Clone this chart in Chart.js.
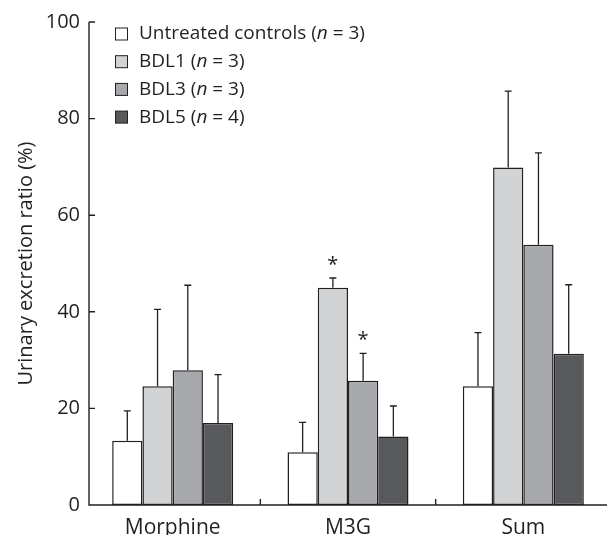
<!DOCTYPE html>
<html>
<head>
<meta charset="utf-8">
<script src="https://cdn.jsdelivr.net/npm/chart.js@4"></script>
<style>
  html, body { margin: 0; padding: 0; background: #fff; }
  #wrap { width: 612px; height: 535px; }
</style>
</head>
<body>
<div id="wrap"><canvas id="excrecionChart" width="612" height="535"></canvas></div>
<script>
// datos (media y desviacion, solo barra superior)
const categorias = ['Morphine', 'M3G', 'Sum'];
const yTicks = [0, 20, 40, 60, 80, 100];

const grupos = ['Untreated controls', 'BDL1', 'BDL3', 'BDL5'];
const nGrupos = [3, 3, 3, 4];

const mediaControl = [13.3, 10.9, 24.6];
const mediaBDL1 = [24.6, 45.0, 69.9];
const mediaBDL3 = [27.9, 25.7, 53.9];
const mediaBDL5 = [17.0, 14.2, 31.3];

const sdControl = [6.2, 6.2, 11.1];
const sdBDL1 = [15.9, 2.0, 15.8];
const sdBDL3 = [17.6, 5.7, 19.0];
const sdBDL5 = [10.0, 6.3, 14.3];

// asteriscos: [categoria, grupo]
const significativos = [[1, 1], [1, 2]];

const colores = ['#ffffff', '#d1d3d4', '#a7a9ac', '#58595b'];
const tinta = '#231f20';
const fuente = "'Open Sans', 'DejaVu Sans', sans-serif";

const medias = [mediaControl, mediaBDL1, mediaBDL3, mediaBDL5];
const desvios = [sdControl, sdBDL1, sdBDL3, sdBDL5];

// barras de error (solo hacia arriba) y asteriscos
const erroresPlugin = {
    id: 'errores',
    afterDatasetsDraw(chart) {
        const ctx = chart.ctx;
        const y = chart.scales.y;
        ctx.save();
        ctx.strokeStyle = tinta;
        ctx.lineWidth = 1.3;
        chart.data.datasets.forEach((ds, i) => {
            const meta = chart.getDatasetMeta(i);
            meta.data.forEach((bar, j) => {
                const tope = y.getPixelForValue(ds.data[j] + desvios[i][j]);
                ctx.beginPath();
                ctx.moveTo(bar.x, bar.y);
                ctx.lineTo(bar.x, tope);
                ctx.moveTo(bar.x - 3.5, tope);
                ctx.lineTo(bar.x + 3.5, tope);
                ctx.stroke();
            });
        });
        ctx.fillStyle = tinta;
        ctx.font = '20px ' + fuente;
        ctx.textAlign = 'center';
        ctx.textBaseline = 'alphabetic';
        significativos.forEach(([j, i]) => {
            const bar = chart.getDatasetMeta(i).data[j];
            const tope = y.getPixelForValue(medias[i][j] + desvios[i][j]);
            ctx.fillText('*', bar.x, tope - 7);
        });
        ctx.restore();
    }
};

// ejes con marcas hacia dentro
const ejesPlugin = {
    id: 'ejes',
    afterDraw(chart) {
        const ctx = chart.ctx;
        const area = chart.chartArea;
        const x = chart.scales.x;
        const y = chart.scales.y;
        const x0 = area.left + 4;
        const x1 = area.right - 4;
        ctx.save();
        ctx.strokeStyle = tinta;
        ctx.lineWidth = 1.4;
        ctx.beginPath();
        ctx.moveTo(x0, area.top);
        ctx.lineTo(x0, area.bottom);
        ctx.lineTo(x1, area.bottom);
        yTicks.forEach(v => {
            const py = y.getPixelForValue(v);
            ctx.moveTo(x0, py);
            ctx.lineTo(x0 + 6, py);
        });
        for (let k = 0; k < categorias.length - 1; k++) {
            const px = (x.getPixelForValue(k) + x.getPixelForValue(k + 1)) / 2;
            ctx.moveTo(px, area.bottom);
            ctx.lineTo(px, area.bottom - 6);
        }
        ctx.stroke();
        ctx.restore();
    }
};

// leyenda con la n en cursiva
const leyendaPlugin = {
    id: 'leyenda',
    afterDraw(chart) {
        const ctx = chart.ctx;
        const tam = 19;
        ctx.save();
        ctx.textBaseline = 'middle';
        ctx.textAlign = 'left';
        grupos.forEach((g, i) => {
            const cy = 34 + i * 27.7;
            ctx.fillStyle = colores[i];
            ctx.fillRect(115.5, cy - 6, 12, 12);
            ctx.strokeStyle = tinta;
            ctx.lineWidth = 1;
            ctx.strokeRect(115.5, cy - 6, 12, 12);
            ctx.fillStyle = tinta;
            let px = 139;
            const partes = [
                [g + ' (', 'normal'],
                ['n', 'italic'],
                [' = ' + nGrupos[i] + ')', 'normal']
            ];
            partes.forEach(([t, estilo]) => {
                ctx.font = estilo + ' ' + tam + 'px ' + fuente;
                ctx.fillText(t, px, cy);
                px += ctx.measureText(t).width;
            });
        });
        ctx.restore();
    }
};

const datasets = grupos.map((g, i) => ({
    label: g,
    data: medias[i],
    backgroundColor: colores[i],
    borderColor: tinta,
    borderWidth: 1.5,
    borderSkipped: false,
    categoryPercentage: 0.69,
    barPercentage: 1.0
}));

const ctx = document.getElementById('excrecionChart').getContext('2d');
new Chart(ctx, {
    type: 'bar',
    data: {
        labels: categorias,
        datasets: datasets
    },
    options: {
        responsive: false,
        animation: false,
        devicePixelRatio: 1,
        layout: {
            padding: { top: 22, right: 1, left: 0, bottom: 0 }
        },
        plugins: {
            legend: { display: false },
            tooltip: { enabled: false }
        },
        scales: {
            x: {
                grid: { display: false, drawTicks: false },
                border: { display: false },
                ticks: {
                    color: tinta,
                    padding: 10,
                    font: { family: fuente, size: 21 }
                },
                afterFit: (scale) => { scale.height = 30; }
            },
            y: {
                min: 0,
                max: 100,
                grid: { display: false, drawTicks: false },
                border: { display: false },
                ticks: {
                    stepSize: 20,
                    color: tinta,
                    padding: 5,
                    font: { family: fuente, size: 20 }
                },
                title: {
                    display: true,
                    text: 'Urinary excretion ratio (%)',
                    color: tinta,
                    padding: { top: 14, bottom: 0 },
                    font: { family: fuente, size: 20 }
                },
                afterFit: (scale) => { scale.width = 85; }
            }
        }
    },
    plugins: [erroresPlugin, ejesPlugin, leyendaPlugin]
});
</script>
</body>
</html>
